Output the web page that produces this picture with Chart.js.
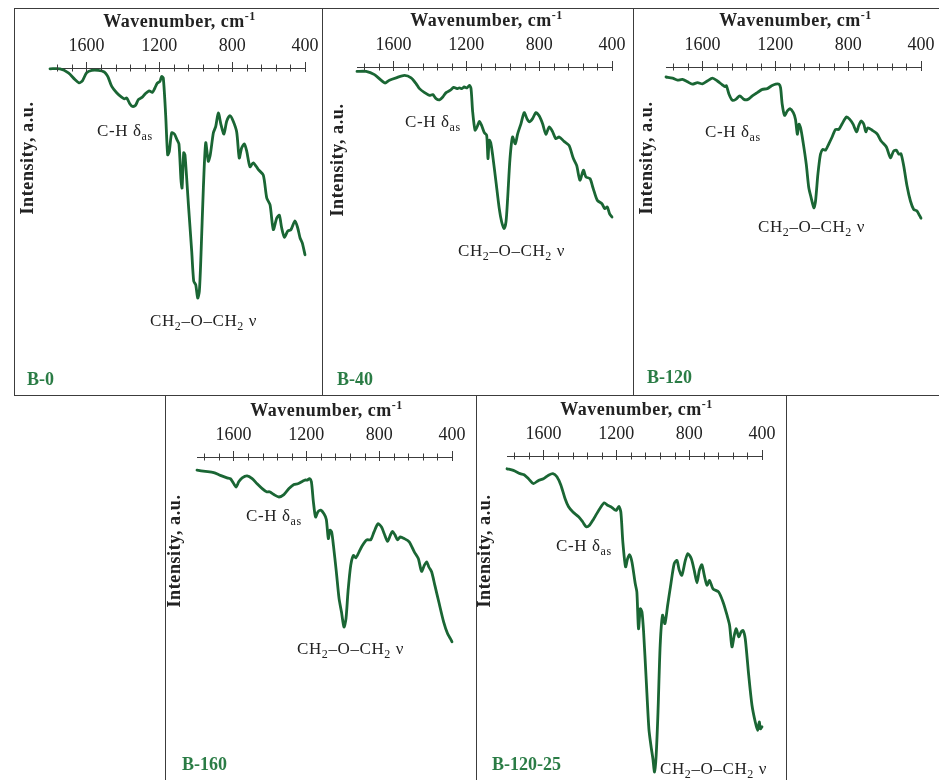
<!DOCTYPE html>
<html>
<head>
<meta charset="utf-8">
<script src="https://cdn.jsdelivr.net/npm/chart.js@4.4.1/dist/chart.umd.min.js"></script>
<style>
  body { margin: 0; background: #fff; }
  #fig { position: relative; width: 939px; height: 780px; overflow: hidden; background: #fff; }
  .panel { position: absolute; box-sizing: border-box; border: 1px solid #3c3c3c; }
  .panel canvas { position: absolute; left: 0; top: 0; }
</style>
</head>
<body>
<div id="fig"></div>
<script>
// x axis ticks (cm-1), ascending
const tickValues = [400, 480, 560, 640, 720, 800, 880, 960, 1040, 1120, 1200, 1280, 1360, 1440, 1520, 1600, 1680, 1760];
const majorTicks = [400, 800, 1200, 1600];

// B-0
const waveB0 = [1800, 1745, 1699, 1663, 1641, 1622, 1599, 1571, 1535, 1502, 1483, 1461, 1434, 1407, 1392, 1379, 1361, 1348, 1330, 1315,
  1293, 1278, 1256, 1238, 1224, 1211, 1196, 1187, 1178, 1165, 1154, 1145, 1132, 1117, 1103, 1092, 1081, 1075, 1066, 1059,
  1040, 1022, 1011, 1000, 989, 980, 971, 958, 945, 931, 920, 903, 890, 876, 861, 845, 830, 812, 794, 775,
  761, 748, 733, 720, 702, 684, 656, 629, 610, 592, 574, 555, 541, 528, 513, 495, 477, 455, 440, 427, 415, 400];
const intB0 = [99.8, 99.8, 98.8, 97.1, 96.3, 96.8, 98.8, 99.4, 99.4, 99.0, 97.9, 95.4, 93.8, 92.7, 92.3, 92.5, 91.0, 90.4, 90.7, 92.1,
  92.7, 93.5, 94.3, 93.9, 95.0, 96.2, 96.7, 97.9, 97.5, 88.3, 78.3, 79.2, 83.8, 83.5, 82.1, 81.0, 72.1, 70.0, 78.8, 78.3,
  65.8, 54.2, 46.7, 45.8, 42.5, 44.2, 53.3, 70.0, 81.3, 76.7, 78.3, 83.8, 85.4, 88.8, 85.8, 83.5, 86.7, 88.1, 86.7, 84.0,
  77.5, 80.0, 81.0, 79.2, 75.3, 76.3, 74.6, 73.2, 67.5, 65.8, 59.6, 62.5, 63.2, 60.0, 57.7, 59.2, 59.6, 61.8, 60.0, 57.5, 56.3, 53.3];

// B-40
const waveB40 = [1800, 1750, 1704, 1668, 1646, 1622, 1585, 1539, 1503, 1475, 1457, 1429, 1402, 1384, 1366, 1347, 1329, 1311, 1287, 1269,
  1251, 1238, 1224, 1211, 1196, 1183, 1174, 1165, 1152, 1141, 1128, 1116, 1101, 1088, 1081, 1074, 1066, 1055, 1037, 1019,
  1006, 993, 982, 973, 960, 946, 931, 918, 900, 882, 867, 854, 836, 818, 800, 781, 763, 745, 727, 709,
  690, 663, 636, 612, 594, 576, 557, 543, 521, 503, 481, 455, 440, 426, 413, 400];
const intB40 = [98.9, 98.9, 98.1, 96.7, 96.0, 96.7, 97.3, 97.9, 97.3, 95.8, 94.6, 93.6, 92.9, 93.1, 92.1, 91.8, 92.5, 93.6, 94.2, 94.9,
  94.6, 94.8, 94.6, 95.0, 94.8, 95.4, 94.6, 88.8, 84.2, 85.0, 86.4, 85.4, 83.6, 82.9, 77.1, 81.7, 81.1, 77.9, 71.3, 64.6,
  61.3, 59.6, 61.3, 67.1, 77.1, 82.5, 80.8, 83.3, 85.8, 88.6, 87.1, 86.3, 87.1, 88.6, 87.8, 85.8, 83.2, 85.0, 83.9, 82.1,
  82.5, 81.4, 80.4, 77.1, 75.4, 71.7, 74.2, 72.5, 72.1, 69.6, 66.7, 65.8, 64.6, 65.0, 63.3, 62.5];

// B-120
const waveB120 = [1800, 1764, 1737, 1710, 1682, 1655, 1627, 1600, 1573, 1545, 1518, 1490, 1476, 1468, 1454, 1436, 1417, 1395, 1372, 1350,
  1326, 1299, 1271, 1244, 1220, 1198, 1180, 1171, 1162, 1149, 1134, 1120, 1101, 1089, 1079, 1070, 1061, 1047, 1030, 1016,
  1003, 988, 979, 966, 952, 939, 924, 906, 888, 869, 851, 833, 809, 791, 773, 754, 742, 729, 714, 703,
  692, 668, 641, 619, 590, 568, 550, 535, 522, 510, 495, 477, 458, 440, 422, 407, 400];
const intB120 = [97.5, 97.2, 96.7, 96.9, 96.3, 95.7, 96.1, 95.8, 96.5, 97.2, 96.5, 95.5, 95.1, 95.3, 93.2, 91.7, 91.9, 92.8, 91.9, 91.9,
  92.8, 93.6, 94.4, 94.6, 95.3, 95.7, 95.7, 94.8, 90.7, 87.9, 89.0, 89.6, 88.6, 86.9, 83.2, 85.7, 84.8, 81.1, 75.7, 69.8,
  67.3, 64.8, 66.5, 73.2, 78.2, 79.4, 79.2, 80.8, 82.5, 84.4, 84.4, 85.8, 87.5, 86.9, 85.7, 83.8, 85.3, 86.5, 85.7, 83.8,
  84.8, 84.2, 83.3, 81.5, 80.0, 77.3, 79.0, 79.2, 78.2, 78.3, 75.3, 70.3, 66.5, 64.4, 64.0, 62.8, 62.2];

// B-160
const waveB160 = [1800, 1754, 1708, 1672, 1635, 1617, 1598, 1585, 1571, 1552, 1525, 1497, 1470, 1442, 1418, 1402, 1378, 1350, 1323, 1295,
  1268, 1246, 1222, 1204, 1195, 1182, 1172, 1161, 1149, 1136, 1121, 1103, 1090, 1079, 1070, 1061, 1051, 1035, 1020, 1007,
  993, 982, 971, 956, 941, 928, 910, 892, 868, 846, 828, 806, 787, 772, 754, 739, 727, 714, 699, 684,
  662, 635, 607, 585, 567, 552, 539, 527, 512, 494, 470, 446, 424, 409, 400];
const intB160 = [96.7, 96.4, 96.1, 95.4, 94.8, 94.6, 93.3, 92.5, 93.8, 94.8, 95.3, 94.6, 93.3, 92.1, 91.3, 91.3, 90.6, 90.0, 90.6, 92.1,
  93.1, 93.3, 93.9, 94.3, 94.2, 94.6, 93.8, 88.8, 85.0, 86.3, 86.7, 85.8, 84.4, 79.6, 81.7, 81.3, 77.9, 71.3, 64.6, 61.3,
  57.5, 59.6, 66.3, 72.9, 75.4, 74.8, 76.3, 77.9, 79.3, 79.3, 81.3, 83.3, 82.5, 80.8, 78.9, 80.4, 81.4, 80.6, 79.3, 80.0,
  79.6, 78.8, 76.3, 74.6, 71.4, 72.9, 73.8, 72.5, 71.3, 67.9, 63.3, 58.8, 55.8, 54.6, 53.8];

// B-120-25
const waveB12025 = [1800, 1765, 1728, 1706, 1682, 1655, 1627, 1600, 1572, 1548, 1526, 1504, 1481, 1462, 1438, 1407, 1384, 1365, 1347, 1325,
  1307, 1288, 1266, 1248, 1230, 1215, 1200, 1186, 1175, 1164, 1149, 1138, 1127, 1114, 1096, 1087, 1078, 1068, 1059, 1050,
  1036, 1021, 1010, 999, 990, 981, 971, 959, 946, 933, 918, 900, 882, 867, 854, 840, 821, 807, 788, 772,
  757, 744, 730, 717, 702, 688, 669, 638, 614, 592, 578, 565, 552, 541, 528, 515, 504, 492, 473, 455,
  437, 424, 415, 409, 400];
const intB12025 = [96.8, 96.4, 95.6, 95.3, 94.3, 93.1, 93.9, 94.3, 95.2, 95.6, 94.8, 92.7, 89.3, 87.3, 86.0, 84.8, 83.5, 82.3, 82.7, 84.2,
  85.6, 87.0, 88.3, 87.7, 87.3, 86.8, 86.4, 87.4, 86.0, 78.5, 72.3, 74.3, 75.3, 73.5, 68.1, 66.0, 56.8, 61.8, 61.0, 56.0,
  44.3, 31.8, 27.7, 24.3, 21.0, 25.2, 36.0, 52.7, 60.2, 58.1, 62.7, 68.1, 73.1, 73.9, 71.4, 70.2, 73.9, 75.6, 74.3, 71.4,
  68.3, 71.4, 72.8, 70.2, 67.7, 68.9, 66.8, 66.0, 63.5, 60.2, 57.7, 52.3, 55.2, 56.8, 54.8, 56.0, 56.4, 54.3, 45.2, 37.7,
  33.5, 31.4, 33.5, 31.8, 32.3];

const LINE_GREEN = '#1a6634';
const LABEL_GREEN = '#2a7c45';
const TEXT = '#222';
const AXIS_COLOR = '#3c3c3c';
const SERIF = '"Liberation Serif", "Times New Roman", serif';
const AXIS_LEN = 255;   // px between 1800 and 400
const PLOT_H = 320;     // px below the axis line
const TICK_SIZE = 18;
const TICK_PAD = 10.5;
const AXIS_H = TICK_SIZE * 1.2 + 2 * TICK_PAD;

// box = [left, top, width, height]; positions relative to the panel canvas
const panels = [
  { name: 'B-0', waves: waveB0, ints: intB0, box: [14, 8, 309, 388], axisLeft: 35, axisTop: 59,
    ch: [82, 123], coc: [135, 313], tag: [12, 371], yTitle: [13, 149] },
  { name: 'B-40', waves: waveB40, ints: intB40, box: [322, 8, 312, 388], axisLeft: 34, axisTop: 58,
    ch: [82, 114], coc: [135, 243], tag: [14, 371], yTitle: [15, 151] },
  { name: 'B-120', waves: waveB120, ints: intB120, box: [633, 8, 310, 388], axisLeft: 32, axisTop: 58,
    ch: [71, 124], coc: [124, 219], tag: [13, 369], yTitle: [13, 149] },
  { name: 'B-160', waves: waveB160, ints: intB160, box: [165, 395, 312, 386], axisLeft: 31, axisTop: 61,
    ch: [80, 121], coc: [131, 254], tag: [16, 369], yTitle: [9, 155] },
  { name: 'B-120-25', waves: waveB12025, ints: intB12025, box: [476, 395, 311, 386], axisLeft: 30, axisTop: 60,
    ch: [79, 151], coc: [183, 374], tag: [15, 369], yTitle: [8, 155] }
];

// draw text made of normal / sub / sup pieces
function drawParts(ctx, parts, x, y, size, weight, align) {
  const fontFor = k => `${weight} ${k ? Math.round(size * 0.68) : size}px ${SERIF}`;
  const widths = parts.map(([t, k]) => { ctx.font = fontFor(k); return ctx.measureText(t).width; });
  const total = widths.reduce((a, b) => a + b, 0);
  let cx = align === 'center' ? x - total / 2 : x;
  ctx.textAlign = 'left';
  ctx.textBaseline = 'middle';
  parts.forEach(([t, k], i) => {
    ctx.font = fontFor(k);
    const dy = k === 'sub' ? size * 0.3 : k === 'sup' ? -size * 0.3 : 0;
    ctx.fillText(t, cx, y + dy);
    cx += widths[i];
  });
}

function makeTextPlugin(p) {
  return {
    id: 'panelText',
    afterDraw(chart) {
      const { ctx, chartArea, scales: { x } } = chart;
      const top = chartArea.top;
      ctx.save();

      // tick marks crossing the axis line
      ctx.strokeStyle = AXIS_COLOR;
      ctx.lineWidth = 1;
      tickValues.forEach(v => {
        const px = Math.round(x.getPixelForValue(v)) + 0.5;
        const major = majorTicks.includes(v);
        ctx.beginPath();
        ctx.moveTo(px, top - (major ? 6 : 3.5));
        ctx.lineTo(px, top + (major ? 4 : 3.5));
        ctx.stroke();
      });

      ctx.fillStyle = TEXT;
      ctx.letterSpacing = '0.5px';
      drawParts(ctx, [['Wavenumber, cm', ''], ['-1', 'sup']],
        (chartArea.left + chartArea.right) / 2 + 2, top - 46, 18, 'bold', 'center');

      // y title
      ctx.save();
      ctx.translate(p.yTitle[0], p.yTitle[1]);
      ctx.rotate(-Math.PI / 2);
      ctx.letterSpacing = '0.6px';
      ctx.font = `bold 18px ${SERIF}`;
      ctx.textAlign = 'center';
      ctx.textBaseline = 'middle';
      ctx.fillText('Intensity, a.u.', 0, 0);
      ctx.restore();

      ctx.letterSpacing = '0.6px';
      drawParts(ctx, [['C-H δ', ''], ['as', 'sub']], p.ch[0], p.ch[1], 17, 'normal', 'left');
      drawParts(ctx, [['CH', ''], ['2', 'sub'], ['–O–CH', ''], ['2', 'sub'], [' ν', '']],
        p.coc[0], p.coc[1], 17, 'normal', 'left');

      ctx.letterSpacing = '0px';
      ctx.fillStyle = LABEL_GREEN;
      drawParts(ctx, [[p.name, '']], p.tag[0], p.tag[1], 18, 'bold', 'left');
      ctx.restore();
    }
  };
}

const fig = document.getElementById('fig');
panels.forEach(p => {
  const div = document.createElement('div');
  div.className = 'panel';
  div.style.left = p.box[0] + 'px';
  div.style.top = p.box[1] + 'px';
  div.style.width = p.box[2] + 'px';
  div.style.height = p.box[3] + 'px';
  const W = p.box[2] - 2, H = p.box[3] - 2;
  const canvas = document.createElement('canvas');
  canvas.width = W; canvas.height = H;
  canvas.style.width = W + 'px'; canvas.style.height = H + 'px';
  div.appendChild(canvas);
  fig.appendChild(div);

  new Chart(canvas.getContext('2d'), {
    type: 'line',
    data: {
      datasets: [{
        data: p.waves.map((w, i) => ({ x: w, y: p.ints[i] })),
        borderColor: LINE_GREEN,
        borderWidth: 2.8,
        pointRadius: 0,
        tension: 0.25,
        fill: false,
        clip: false,
        borderJoinStyle: 'round',
        borderCapStyle: 'round'
      }]
    },
    options: {
      responsive: false,
      animation: false,
      devicePixelRatio: 1,
      layout: {
        padding: {
          left: p.axisLeft,
          right: W - p.axisLeft - AXIS_LEN,
          top: p.axisTop - AXIS_H,
          bottom: H - p.axisTop - PLOT_H
        }
      },
      plugins: { legend: { display: false }, tooltip: { enabled: false } },
      scales: {
        x: {
          type: 'linear', position: 'top', reverse: true, min: 400, max: 1800,
          grid: { display: false, drawTicks: false },
          border: { display: true, color: AXIS_COLOR, width: 1 },
          afterBuildTicks: s => { s.ticks = tickValues.map(v => ({ value: v })); },
          ticks: {
            autoSkip: false, maxRotation: 0, padding: TICK_PAD, color: TEXT,
            font: { family: SERIF, size: TICK_SIZE },
            callback: v => majorTicks.includes(v) ? String(v) : ''
          }
        },
        y: { display: false, min: 20, max: 100 }
      }
    },
    plugins: [makeTextPlugin(p)]
  });
});
</script>
</body>
</html>
